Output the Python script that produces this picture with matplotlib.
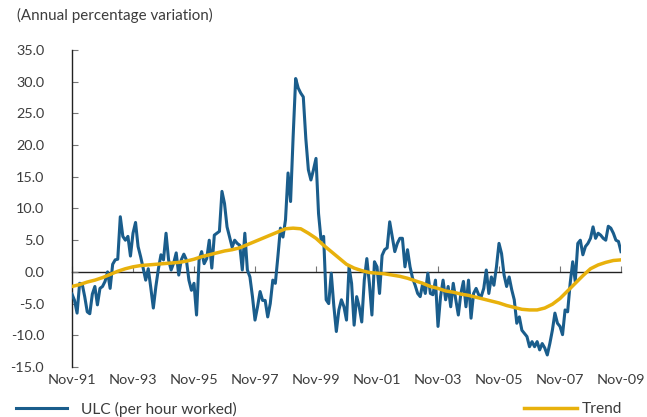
import matplotlib
matplotlib.use('Agg')
import matplotlib.pyplot as plt
import numpy as np

plt.rcParams['font.family'] = ['Lato', 'DejaVu Sans']

# ---------------- data ----------------
# ULC per hour worked, monthly, Nov-91 .. Nov-09
ulc = [-3.5, -4.5, -6.5, -1.8, -1.9, -3.9, -6.3, -6.6, -3.5, -2.3,
       -5.2, -2.6, -2.3, -1.5, 0.0, -2.6, 1.2, 1.9, 2.0, 8.7,
       5.6, 5.0, 5.6, 2.5, 6.1, 7.8, 4.0, 2.4, 0.6, -1.3,
       0.5, -2.5, -5.7, -2.3, 0.5, 2.7, 1.9, 6.1, 1.9, 0.3,
       1.4, 3.0, -0.5, 1.9, 2.8, 1.9, -1.3, -2.9, -1.8, -6.8,
       1.9, 3.2, 1.3, 2.1, 5.0, 0.6, 5.8, 6.1, 6.4, 12.7,
       10.8, 7.1, 5.5, 3.9, 5.0, 4.5, 4.2, 0.3, 6.1, 0.3,
       -0.8, -3.9, -7.6, -5.5, -3.1, -4.5, -4.5, -7.1, -5.0, -1.3,
       -1.8, 2.4, 6.9, 5.5, 8.2, 15.6, 11.1, 21.3, 30.5, 29.0,
       28.2, 27.6, 21.0, 16.1, 14.5, 16.1, 17.9, 9.2, 5.0, 5.6,
       -4.4, -5.0, -0.2, -5.3, -9.4, -6.0, -4.4, -5.5, -7.6, 0.8,
       -1.8, -8.4, -3.9, -5.5, -7.9, -1.3, 2.1, -1.8, -6.8, 1.6,
       0.8, -3.4, 2.6, 3.5, 3.8, 7.9, 5.5, 3.2, 4.5, 5.3,
       5.3, 0.8, 3.5, 0.8, -1.0, -2.1, -3.4, -3.9, -1.8, -3.4,
       -0.2, -3.4, -3.6, -1.3, -8.6, -3.9, -1.3, -4.4, -2.3, -5.5,
       -1.8, -4.4, -6.8, -3.4, -1.5, -5.5, -1.3, -7.3, -3.4, -2.6,
       -3.6, -3.9, -2.6, 0.3, -3.4, -0.8, -2.1, 0.8, 4.5, 2.9,
       -0.5, -2.3, -0.8, -2.8, -4.4, -8.1, -7.1, -9.2, -9.7, -10.2,
       -11.8, -11.0, -11.8, -11.0, -12.3, -11.3, -12.0, -13.1, -11.3, -9.2,
       -6.5, -8.1, -8.6, -9.9, -6.0, -6.3, -1.8, 1.6, -1.5, 4.5,
       5.0, 2.7, 4.0, 4.5, 5.3, 7.1, 5.3, 6.1, 5.8, 5.3,
       5.0, 7.2, 6.9, 6.1, 5.0, 4.8, 3.2]

# trend, quarterly readings (every 3 months from Nov-91)
trend = [-2.3, -2.0, -1.6, -1.3, -0.9, -0.4, 0.1, 0.5, 0.8, 1.0,
         1.1, 1.2, 1.3, 1.4, 1.5, 1.7, 2.0, 2.4, 2.7, 3.0,
         3.3, 3.5, 3.8, 4.3, 4.8, 5.3, 5.8, 6.3, 6.8, 6.9,
         6.8, 6.1, 5.3, 4.2, 3.2, 2.2, 1.2, 0.6, 0.2, -0.1,
         -0.2, -0.3, -0.5, -0.7, -1.0, -1.4, -1.8, -2.3, -2.6, -3.0,
         -3.2, -3.5, -3.7, -4.0, -4.3, -4.6, -4.9, -5.3, -5.6, -5.9,
         -6.0, -6.0, -5.7, -5.1, -4.2, -3.0, -1.8, -0.6, 0.5, 1.1,
         1.5, 1.8, 1.9]

tick_labels = ['Nov-91', 'Nov-93', 'Nov-95', 'Nov-97', 'Nov-99',
               'Nov-01', 'Nov-03', 'Nov-05', 'Nov-07', 'Nov-09']
y_ticks = [35, 30, 25, 20, 15, 10, 5, 0, -5, -10, -15]

months = np.arange(len(ulc))
trend_months = np.arange(len(trend)) * 3
tick_pos = np.arange(len(tick_labels)) * 24

blue = '#1a5d8c'
gold = '#e8b10c'
txt = '#3c3c3c'

# ---------------- plot ----------------
fig = plt.figure(figsize=(6.47, 4.17), dpi=100)
ax = fig.add_axes([72 / 647, 50 / 417, 549 / 647, 317 / 417])

l1, = ax.plot(months, ulc, color=blue, lw=2.2, zorder=3, solid_joinstyle='round')
l2, = ax.plot(trend_months, trend, color=gold, lw=2.5, zorder=4)

ax.set_xlim(0, months[-1])
ax.set_ylim(-15, 35)
ax.set_yticks(y_ticks)
ax.set_yticklabels(['%.1f' % v for v in y_ticks])
ax.set_xticks(tick_pos)
ax.set_xticklabels(tick_labels)

for s in ['top', 'right', 'bottom']:
    ax.spines[s].set_visible(False)
ax.spines['left'].set_color('#222222')
ax.spines['left'].set_linewidth(1.0)

ax.tick_params(axis='y', direction='in', length=4, color='#777777', pad=20,
               labelsize=10.4, labelcolor=txt)
ax.tick_params(axis='x', length=0, pad=5, labelsize=10.4, labelcolor=txt)

# zero line with small ticks pointing up
sec = ax.secondary_xaxis(0, transform=ax.transData)
sec.set_xticks(tick_pos)
sec.tick_params(direction='in', length=4, color='#777777', labelbottom=False, labeltop=False)
sec.spines['bottom'].set_color('#222222')
sec.spines['bottom'].set_linewidth(1.0)

fig.text(17 / 647, 1 - 15 / 417, '(Annual percentage variation)', fontsize=10.9,
         color=txt, va='center', ha='left')

fig.legend([l1], ['ULC (per hour worked)'], loc='center left',
           bbox_to_anchor=(16 / 647, 8 / 417), frameon=False, fontsize=11.2,
           handlelength=3.3, handletextpad=0.86, borderpad=0, borderaxespad=0,
           labelcolor=txt)
fig.legend([l2], ['Trend'], loc='center right',
           bbox_to_anchor=(622 / 647, 8 / 417), frameon=False, fontsize=11.2,
           handlelength=3.4, handletextpad=0.32, borderpad=0, borderaxespad=0,
           labelcolor=txt)

fig.savefig('out.png', dpi=100)
plt.close()
